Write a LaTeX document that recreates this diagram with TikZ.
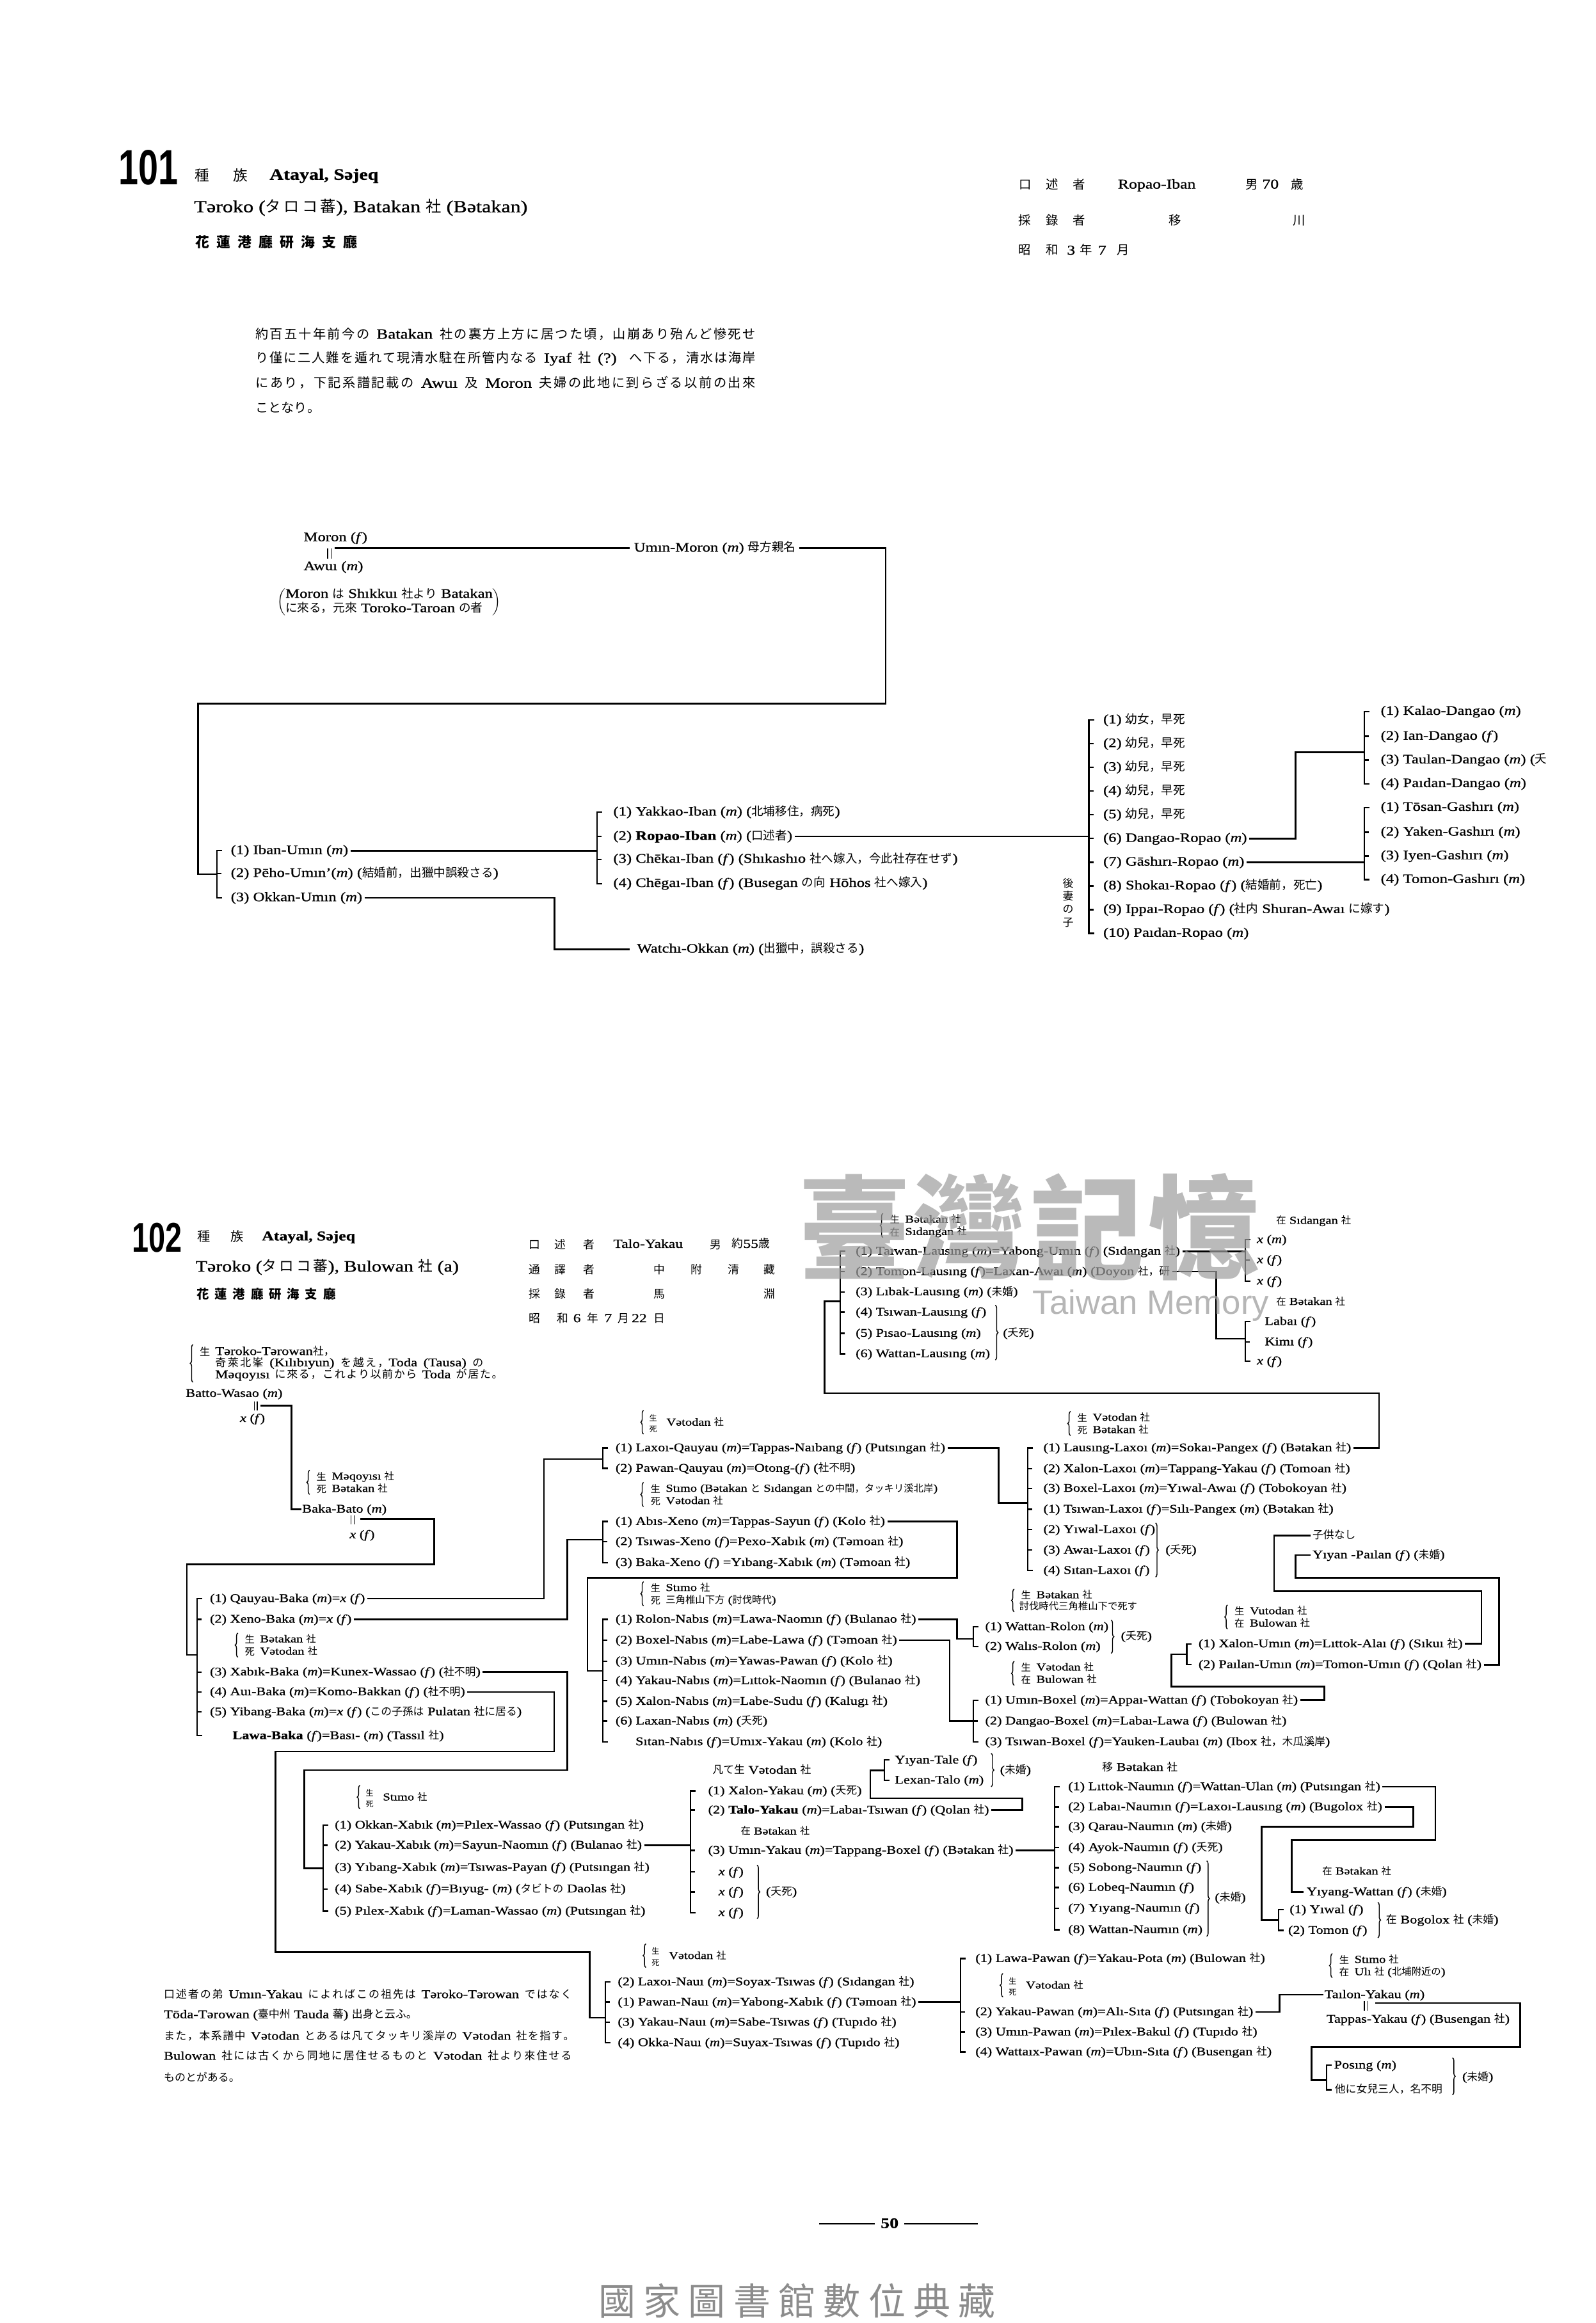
\documentclass[tikz,border=0pt]{standalone}
\usepackage{fontspec}
\setmainfont{Liberation Serif}[FakeStretch=1.22,RawFeature={embolden=1}]
\newfontfamily\jpf{Noto Sans CJK JP}[Scale=0.92]
\newfontfamily\tcf{Noto Sans CJK TC}
\newfontfamily\numf{Liberation Sans}[FakeStretch=0.72]
\newfontfamily\wmf{Liberation Sans}
\usetikzlibrary{decorations.pathreplacing}
\newdimen\ovu \ovu=0.046296cm
\def\cjkfont{\jpf}
\ifdefined\newXeTeXintercharclass
  \newXeTeXintercharclass\cjkcls
\else
  \chardef\cjkcls=7
\fi
\newcount\cjkc
\def\setcjkrange#1#2{\cjkc=#1\relax
  \loop\XeTeXcharclass\cjkc=\cjkcls\relax
  \ifnum\cjkc<#2\relax\advance\cjkc by 1\relax\repeat}
\setcjkrange{"3000}{"30FF}
\setcjkrange{"4E00}{"9FFF}
\setcjkrange{"FF00}{"FFEF}
\XeTeXinterchartoks 0 \cjkcls = {\begingroup\cjkfont}
\XeTeXinterchartoks 4095 \cjkcls = {\begingroup\cjkfont}
\XeTeXinterchartoks \cjkcls 0 = {\endgroup}
\XeTeXinterchartoks \cjkcls 4095 = {\endgroup}
\XeTeXinterchartoks \cjkcls \cjkcls = {\hskip 0pt plus 1pt\relax}
\XeTeXinterchartokenstate=1
\newcommand\ma{(\textit{m})}
\newcommand\fe{(\textit{f})}
\newcommand\xf{\textit{x} (\textit{f})}
\newcommand\bkt[3]{\draw[brk] (#1+3.5,#2) -- (#1,#2) -- (#1,#3) -- (#1+3.5,#3);}
\newcommand\tks[2]{\foreach \yv in {#2}{\draw[brk] (#1,\yv) -- (#1+3,\yv);}}
\newcommand\twol[7]{%
  \draw[brc] (#2,#3+12.3) -- (#2,#3-4);
  \node[cj,font=\fontsize{9.5}{10}\selectfont] (#1a) at (#2+8,#3) {#4};
  \node[note] (#1b) at (#2+15,#3) {#5};
  \node[cj,font=\fontsize{9.5}{10}\selectfont] (#1c) at (#2+8,#3+8.3) {#6};
  \node[note] (#1d) at (#2+15,#3+8.3) {#7};}
\newcommand\stk[4]{%
  \draw[brc] (#2,#3+8) -- (#2,#3-8);
  \node[cj,font=\fontsize{7.5}{8}\selectfont] (#1a) at (#2+6.5,#3-3.7) {生};
  \node[cj,font=\fontsize{7.5}{8}\selectfont] (#1b) at (#2+6.5,#3+3.7) {死};
  \node[note] (#1c) at (#2+15.5,#3) {#4};}
\begin{document}
\begin{tikzpicture}[x=0.046296cm,y=-0.046296cm,
 rw/.style={anchor=west,inner sep=0pt,outer sep=0pt,text height=0.7em,text depth=0.1em},
 cj/.style={anchor=center,inner sep=0pt,outer sep=0pt,text height=0.8em,text depth=0.05em},
 rowA/.style={rw,font=\fontsize{11.5}{13}\selectfont},
 rowB/.style={rw,font=\fontsize{10.4}{12}\selectfont},
 note/.style={rw,font=\fontsize{9.5}{11}\selectfont},
 conn/.style={line width=1.5pt},
 brk/.style={line width=1.3pt},
 brc/.style={decorate,decoration={brace,amplitude=2.5pt},line width=0.8pt},
 dbl/.style={line width=0.8pt}]
\useasboundingbox (0,0) rectangle (1077,1568);
\fill[white] (0,0) rectangle (1077,1568);

%%%%%%%%%%%%%%%% 101 header
\node[anchor=base west,inner sep=0pt,font=\numf\bfseries\fontsize{44}{44}\selectfont] (n101) at (80,124.5) {101};
\node[cj,font=\fontsize{14}{14}\selectfont] (za1) at (136.5,119) {種};
\node[cj,font=\fontsize{14}{14}\selectfont] (za2) at (162.5,119) {族};
\node[rw,font=\bfseries\fontsize{14}{16}\selectfont] (za3) at (182,119) {Atayal, Səjeq};
\node[rw,font=\fontsize{15}{17}\selectfont] (za4) at (131,141) {Təroko (タ\,ロ\,コ\,蕃), Batakan 社 (Bətakan)};
\foreach \ch [count=\i] in {花,蓮,港,廳,研,海,支,廳}
  \node[cj,font=\bfseries\fontsize{13.5}{14}\selectfont] (zb\i) at (122.2+14.3*\i,164) {\ch};
\foreach \ch/\px [count=\i] in {口/692,述/710,者/728.5,男/845,歳/875.5}
  \node[cj,font=\fontsize{12}{12}\selectfont] (ha\i) at (\px,125) {\ch};
\node[rw,font=\fontsize{12}{14}\selectfont] (ha6) at (754.6,125) {Ropao-Iban};
\node[rw,font=\fontsize{12}{14}\selectfont] (ha7) at (852,125) {70};
\foreach \ch/\px [count=\i] in {採/691.5,錄/710,者/728.5,移/793,川/877}
  \node[cj,font=\fontsize{12}{12}\selectfont] (hb\i) at (\px,149) {\ch};
\foreach \ch/\px [count=\i] in {昭/691.5,和/710,3/723,年/733,7/744,月/758}
  \node[cj,font=\fontsize{12}{12}\selectfont] (hc\i) at (\px,169) {\ch};
\node[rw,font=\fontsize{12.5}{14}\selectfont] (pa1) at (172.5,226.3) {\makebox[337.5\ovu][s]{約百五十年前今の Batakan 社の裏方上方に居つた頃，山崩あり殆んど慘死せ}};
\node[rw,font=\fontsize{12.5}{14}\selectfont] (pa2) at (172.5,242.5) {\makebox[337.5\ovu][s]{り僅に二人難を遁れて現清水駐在所管内なる Iyaf 社 (?) へ下る，清水は海岸}};
\node[rw,font=\fontsize{12.5}{14}\selectfont] (pa3) at (172.5,259.4) {\makebox[337.5\ovu][s]{にあり，下記系譜記載の Awuı 及 Moron 夫婦の此地に到らざる以前の出來}};
\node[rw,font=\fontsize{12.5}{14}\selectfont] (pa4) at (172.5,276.3) {ことなり。};

%%%%%%%%%%%%%%%% 101 genealogy
\node[rowA] (moron) at (205,363) {Moron \fe};
\node[rowA] (awui) at (205,382.6) {Awuı \ma};
\draw[dbl] (221.2,370) -- (221.2,377) (223.6,370) -- (223.6,377);
\coordinate (eqa) at (226,370);
\node[rowA] (um) at (428,370) {Umın-Moron \ma{} 母方親名};
\draw[conn] (eqa) -- ([xshift=-4pt]um.west);
\draw[conn] ([xshift=3pt]um.east) -- (597.8,370) -- (597.8,474.9) -- (133.7,474.9) -- (133.7,590) -- (146.3,590);
\node[anchor=west,inner sep=0pt,font=\fontsize{11.5}{12.8}\selectfont] (mnote) at (187,406.4) {$\left(\begin{tabular}{@{}l@{}}Moron は Shıkkuı 社より Batakan\\に來る，元來 Toroko-Taroan の者\end{tabular}\right)$};

\bkt{146.3}{574.2}{606}
\tks{146.3}{589.6}
\node[rowA] (iban) at (155.8,574.2) {(1) Iban-Umın \ma};
\node[rowA] (peho) at (155.8,589.6) {(2) Pēho-Umın'\ma{} (結婚前，出獵中誤殺さる)};
\node[rowA] (okk) at (155.8,606) {(3) Okkan-Umın \ma};
\draw[conn] ([xshift=2pt]iban.east) -- (403,574.2);
\bkt{403}{548.2}{596.4}
\tks{403}{564.6,580}
\node[rowA] (yak) at (414,548.2) {(1) Yakkao-Iban \ma{} (北埔移住，病死)};
\node[rowA] (rop) at (414,564.6) {(2) \textbf{Ropao-Iban} \ma{} (口述者)};
\node[rowA] (chk) at (414,580) {(3) Chēkaı-Iban \fe{} (Shıkashıo 社へ嫁入，今此社存在せず)};
\node[rowA] (chg) at (414,596.4) {(4) Chēgaı-Iban \fe{} (Busegan の向 Hōhos 社へ嫁入)};
\draw[conn] ([xshift=2pt]rop.east) -- (735,564.6);
\draw[conn] ([xshift=2pt]okk.east) -- (374.4,606) -- (374.4,640.7) -- (425,640.7);
\node[rowA] (wat) at (430,640.7) {Watchı-Okkan \ma{} (出獵中，誤殺さる)};

\bkt{735}{486}{630}
\tks{735}{502,518,534,550,566,582,598,614}
\node[rowA] (c1) at (744.7,486) {(1) 幼女，早死};
\node[rowA] (c2) at (744.7,502) {(2) 幼兒，早死};
\node[rowA] (c3) at (744.7,518) {(3) 幼兒，早死};
\node[rowA] (c4) at (744.7,534) {(4) 幼兒，早死};
\node[rowA] (c5) at (744.7,550) {(5) 幼兒，早死};
\node[rowA] (c6) at (744.7,566) {(6) Dangao-Ropao \ma};
\node[rowA] (c7) at (744.7,582) {(7) Gāshırı-Ropao \ma};
\node[rowA] (c8) at (744.7,598) {(8) Shokaı-Ropao \fe{} (結婚前，死亡)};
\node[rowA] (c9) at (744.7,614) {(9) Ippaı-Ropao \fe{} (社内 Shuran-Awaı に嫁す)};
\node[rowA] (c10) at (744.7,630) {(10) Paıdan-Ropao \ma};
\foreach \ch/\py [count=\i] in {後/596,妻/604.8,の/613.5,子/622.5}
  \node[cj,font=\fontsize{10.5}{11}\selectfont] (gs\i) at (721,\py) {\ch};
\draw[conn] ([xshift=2pt]c6.east) -- (874.5,566) -- (874.5,507.8) -- (921,507.8);
\bkt{921}{480.2}{529}
\tks{921}{497,513}
\node[rowA] (d1) at (932,480.2) {(1) Kalao-Dangao \ma};
\node[rowA] (d2) at (932,497) {(2) Ian-Dangao \fe};
\node[rowA] (d3) at (932,513) {(3) Taulan-Dangao \ma{} (夭};
\node[rowA] (d4) at (932,529) {(4) Paıdan-Dangao \ma};
\draw[conn] ([xshift=2pt]c7.east) -- (921,582);
\bkt{921}{545}{593.7}
\tks{921}{561.7,577.7}
\node[rowA] (g1) at (932,545) {(1) Tōsan-Gashırı \ma};
\node[rowA] (g2) at (932,561.7) {(2) Yaken-Gashırı \ma};
\node[rowA] (g3) at (932,577.7) {(3) Iyen-Gashırı \ma};
\node[rowA] (g4) at (932,593.7) {(4) Tomon-Gashırı \ma};

%%%%%%%%%%%%%%%% 102 header
\node[anchor=base west,inner sep=0pt,font=\numf\bfseries\fontsize{37}{37}\selectfont] (n102) at (89,845) {102};
\node[cj,font=\fontsize{12.5}{13}\selectfont] (zc1) at (137.8,835) {種};
\node[cj,font=\fontsize{12.5}{13}\selectfont] (zc2) at (160.2,835) {族};
\node[rw,font=\bfseries\fontsize{12}{14}\selectfont] (zc3) at (176.8,835) {Atayal, Səjeq};
\node[rw,font=\fontsize{14}{16}\selectfont] (zc4) at (132,856) {Təroko (タ\,ロ\,コ\,蕃), Bulowan 社 (a)};
\foreach \ch [count=\i] in {花,蓮,港,廳,研,海,支,廳}
  \node[cj,font=\bfseries\fontsize{12}{12}\selectfont] (zd\i) at (124.8+12.2*\i,874) {\ch};
\foreach \ch/\px [count=\i] in {口/361,述/378,者/397.5,男/483}
  \node[cj,font=\fontsize{11}{11}\selectfont] (hr\i) at (\px,840) {\ch};
\node[rw,font=\fontsize{11}{12}\selectfont] (hr5) at (414,840) {Talo-Yakau};
\node[rw,font=\fontsize{11}{12}\selectfont] (hr6) at (494,840) {約55歳};
\foreach \ch/\px [count=\i] in {通/361,譯/378,者/397.5,中/445,附/470,清/495,藏/519.5}
  \node[cj,font=\fontsize{11}{11}\selectfont] (hs\i) at (\px,857) {\ch};
\foreach \ch/\px [count=\i] in {採/361,錄/378,者/397.5,馬/445,淵/519.5}
  \node[cj,font=\fontsize{11}{11}\selectfont] (ht\i) at (\px,873.3) {\ch};
\foreach \ch/\px [count=\i] in {昭/361,和/380,6/389.5,年/400,7/410.5,月/421,22/431.5,日/445}
  \node[cj,font=\fontsize{11}{11}\selectfont] (hu\i) at (\px,889.6) {\ch};

\draw[brc] (130.3,933) -- (130.3,907.5);
\node[cj,font=\fontsize{10}{10}\selectfont] (tn0) at (138.3,912.3) {生};
\node[rw,font=\fontsize{10.5}{11}\selectfont] (tn1) at (145.3,912.3) {Təroko-Tərowan社，};
\node[rw,font=\fontsize{10.5}{11}\selectfont] (tn2) at (145.3,920) {\makebox[181\ovu][s]{奇萊北峯 (Kılıbıyun) を越え，Toda (Tausa) の}};
\node[rw,font=\fontsize{10.5}{11}\selectfont] (tn3) at (145.3,928) {\makebox[194\ovu][s]{Məqoyısı に來る，これより以前から Toda が居た。}};

%%%%%%%%%%%%%%%% 102 genealogy, left
\node[rowB] (bw) at (125.4,940.6) {Batto-Wasao \ma};
\draw[dbl] (171.7,946) -- (171.7,952) (173.7,946) -- (173.7,952);
\node[rowB] (bwx) at (162,957.5) {\xf};
\coordinate (eqb) at (176,948.7);
\node[rowB] (bb) at (204,1018.7) {Baka-Bato \ma};
\draw[conn] (eqb) -- (196.8,948.7) -- (196.8,1018.7) -- ([xshift=-1pt]bb.west);
\twol{mq}{209}{996.4}{生}{Məqoyısı 社}{死}{Bətakan 社}
\draw[dbl] (237,1023) -- (237,1029) (239,1023) -- (239,1029);
\node[rowB] (bbx) at (236,1036) {\xf};
\coordinate (eqc) at (243.3,1025.3);
\bkt{133}{1079}{1171.6}
\tks{133}{1093,1128.6,1142,1155.5}
\draw[conn] (eqc) -- (293.2,1025.3) -- (293.2,1055.9) -- (126.2,1055.9) -- (126.2,1117) -- (133,1117);
\node[rowB] (bk1) at (141.7,1079) {(1) Qauyau-Baka \ma=\xf};
\node[rowB] (bk2) at (141.7,1093) {(2) Xeno-Baka \ma=\xf};
\twol{bv}{160.6}{1106.3}{生}{Bətakan 社}{死}{Vətodan 社}
\node[rowB] (bk3) at (141.7,1128.6) {(3) Xabık-Baka \ma=Kunex-Wassao \fe{} (社不明)};
\node[rowB] (bk4) at (141.7,1142) {(4) Auı-Baka \ma=Komo-Bakkan \fe{} (社不明)};
\node[rowB] (bk5) at (141.7,1155.5) {(5) Yibang-Baka \ma=\xf{} (この子孫は Pulatan 社に居る)};
\node[rowB] (bk6) at (157,1171.6) {\textbf{Lawa-Baka} \fe=Bası- \ma{} (Tassıl 社)};
\draw[conn] ([xshift=2pt]bk1.east) -- (367.2,1079) -- (367.2,984.8) -- (407,984.8);
\draw[conn] ([xshift=2pt]bk2.east) -- (383,1093) -- (383,1039.3) -- (407,1039.3);
\draw[conn] ([xshift=2pt]bk3.east) -- (383,1128.6) -- (383,1194.7) -- (205.4,1194.7) -- (205.4,1261) -- (218,1261);
\draw[conn] ([xshift=2pt]bk4.east) -- (374,1142) -- (374,1182.3) -- (186,1182.3) -- (186,1317.6) -- (398,1317.6) -- (398,1362) -- (408.5,1362);

% Xabik children
\stk{st1}{243}{1213}{Stımo 社}
\bkt{218}{1232}{1290}
\tks{218}{1245.5,1275}
\node[rowB] (ox1) at (226,1232) {(1) Okkan-Xabık \ma=Pılex-Wassao \fe{} (Putsıngan 社)};
\node[rowB] (ox2) at (226,1245.5) {(2) Yakau-Xabık \ma=Sayun-Naomın \fe{} (Bulanao 社)};
\node[rowB] (ox3) at (226,1260.5) {(3) Yıbang-Xabık \ma=Tsıwas-Payan \fe{} (Putsıngan 社)};
\node[rowB] (ox4) at (226,1275) {(4) Sabe-Xabık \fe=Bıyug- \ma{} (タビトの Daolas 社)};
\node[rowB] (ox5) at (226,1290) {(5) Pılex-Xabık \fe=Laman-Wassao \ma{} (Putsıngan 社)};
\draw[conn] ([xshift=2pt]ox2.east) -- (466,1245.5);

% Yakau group
\node[rowB] (fv) at (481,1195) {凡て生 Vətodan 社};
\bkt{466}{1208.8}{1291}
\tks{466}{1221.8,1249,1263.5,1277}
\node[rowB] (ya1) at (478,1208.8) {(1) Xalon-Yakau \ma{} (夭死)};
\node[rowB] (ya2) at (478,1221.8) {(2) \textbf{Talo-Yakau} \ma=Labaı-Tsıwan \fe{} (Qolan 社)};
\node[note] (ya0) at (500,1236) {在 Bətakan 社};
\node[rowB] (ya3) at (478,1249) {(3) Umın-Yakau \ma=Tappang-Boxel \fe{} (Bətakan 社)};
\node[rowB] (ya4) at (485,1263.5) {\xf};
\node[rowB] (ya5) at (485,1277) {\xf};
\node[rowB] (ya6) at (485,1291) {\xf};
\draw[brc] (511,1259) -- (511,1295);
\node[rowB] (ya7) at (517,1277) {(夭死)};
\draw[conn] ([xshift=2pt]ya2.east) -- (690,1221.8) -- (690,1213.8) -- (587.5,1213.8) -- (587.5,1195) -- (597,1195);
\bkt{597}{1188}{1201.6}
\node[rowB] (yt1) at (604,1188) {Yıyan-Tale \fe};
\node[rowB] (yt2) at (604,1201.6) {Lexan-Talo \ma};
\draw[brc] (669,1183.5) -- (669,1206);
\node[rowB] (yt3) at (675,1195) {(未婚)};

% Naumin group
\node[rowB] (mb) at (744,1193) {移 Bətakan 社};
\draw[conn] ([xshift=2pt]ya3.east) -- (712,1249);
\bkt{712}{1206}{1302.5}
\tks{712}{1219.6,1233,1247,1260.6,1274,1288}
\node[rowB] (nm1) at (721,1206) {(1) Lıttok-Naumın \fe=Wattan-Ulan \ma{} (Putsıngan 社)};
\node[rowB] (nm2) at (721,1219.6) {(2) Labaı-Naumın \fe=Laxoı-Lausıng \ma{} (Bugolox 社)};
\node[rowB] (nm3) at (721,1233) {(3) Qarau-Naumın \ma{} (未婚)};
\node[rowB] (nm4) at (721,1247) {(4) Ayok-Naumın \fe{} (夭死)};
\node[rowB] (nm5) at (721,1260.6) {(5) Sobong-Naumın \fe};
\node[rowB] (nm6) at (721,1274) {(6) Lobeq-Naumın \fe};
\node[rowB] (nm7) at (721,1288) {(7) Yıyang-Naumın \fe};
\node[rowB] (nm8) at (721,1302.5) {(8) Wattan-Naumın \ma};
\draw[brc] (814.5,1256) -- (814.5,1307);
\node[rowB] (nm9) at (820,1281) {(未婚)};
\draw[conn] ([xshift=2pt]nm1.east) -- (968.8,1206) -- (968.8,1242) -- (872,1242) -- (872,1277) -- (880,1277);
\node[note] (yw0) at (892.6,1263) {在 Bətakan 社};
\node[rowB] (yw1) at (882,1277) {Yıyang-Wattan \fe{} (未婚)};
\draw[conn] ([xshift=2pt]nm2.east) -- (954,1219.6) -- (954,1233) -- (851.7,1233) -- (851.7,1296) -- (863,1296);
\bkt{863}{1289}{1303}
\node[rowB] (yw2) at (870.5,1289) {(1) Yıwal \fe};
\node[rowB] (yw3) at (869.5,1303) {(2) Tomon \fe};
\draw[brc] (930,1284) -- (930,1308);
\node[rowB] (yw4) at (935.6,1296) {在 Bogolox 社 (未婚)};

% Naui group
\stk{st2}{436}{1320}{Vətodan 社}
\bkt{408.5}{1337.8}{1378.8}
\tks{408.5}{1351.4,1365}
\node[rowB] (na2) at (417,1337.8) {(2) Laxoı-Nauı \ma=Soyax-Tsıwas \fe{} (Sıdangan 社)};
\node[rowB] (na1) at (417,1351.4) {(1) Pawan-Nauı \ma=Yabong-Xabık \fe{} (Təmoan 社)};
\node[rowB] (na3) at (417,1365) {(3) Yakau-Nauı \ma=Sabe-Tsıwas \fe{} (Tupıdo 社)};
\node[rowB] (na4) at (417,1378.8) {(4) Okka-Nauı \ma=Suyax-Tsıwas \fe{} (Tupıdo 社)};
\draw[conn] ([xshift=2pt]na1.east) -- (648.3,1351.4);

% Pawan group
\bkt{648.3}{1322}{1385}
\tks{648.3}{1358,1371.6}
\node[rowB] (pw1) at (658.4,1322) {(1) Lawa-Pawan \fe=Yakau-Pota \ma{} (Bulowan 社)};
\stk{st3}{677}{1340}{Vətodan 社}
\node[rowB] (pw2) at (658.4,1358) {(2) Yakau-Pawan \ma=Alı-Sıta \fe{} (Putsıngan 社)};
\node[rowB] (pw3) at (658.4,1371.6) {(3) Umın-Pawan \ma=Pılex-Bakul \fe{} (Tupıdo 社)};
\node[rowB] (pw4) at (658.4,1385) {(4) Wattaıx-Pawan \ma=Ubın-Sıta \fe{} (Busengan 社)};
\node[rowB] (ty1) at (894,1346.4) {Taılon-Yakau \ma};
\draw[conn] ([xshift=2pt]pw2.east) -- (863.7,1358) -- (863.7,1346.4) -- ([xshift=-1pt]ty1.west);
\twol{ul}{899.3}{1322.6}{生}{Stımo 社}{在}{Ulı 社 (北埔附近の)}
\draw[dbl] (921,1350.5) -- (921,1357) (923.2,1350.5) -- (923.2,1357);
\node[rowB] (ty2) at (895.4,1363) {Tappas-Yakau \fe{} (Busengan 社)};
\coordinate (eqd) at (928.4,1352);
\draw[conn] (eqd) -- (1026,1352) -- (1026,1381.7) -- (885.3,1381.7) -- (885.3,1404) -- (895.4,1404);
\bkt{895.4}{1394}{1410.5}
\node[rowB] (po1) at (900.5,1394) {Posıng \ma};
\node[rowB] (po2) at (901,1410.5) {他に女兒三人，名不明};
\draw[brc] (980.4,1389) -- (980.4,1414);
\node[rowB] (po3) at (987,1402) {(未婚)};

%%%%%%%%%%%%%%%% 102 genealogy, middle & right
\stk{st4}{434.4}{960}{Vətodan 社}
\bkt{407}{977.3}{991.1}
\node[rowB] (lq1) at (415.5,977.3) {(1) Laxoı-Qauyau \ma=Tappas-Naıbang \fe{} (Putsıngan 社)};
\node[rowB] (lq2) at (415.5,991.1) {(2) Pawan-Qauyau \ma=Otong-\fe{} (社不明)};
\draw[conn] ([xshift=2pt]lq1.east) -- (674,977.3) -- (674,1014.5) -- (693.8,1014.5);
\twol{sm}{434.4}{1004.6}{生}{Stımo (Bətakan と Sıdangan との中間，タッキリ溪北岸)}{死}{Vətodan 社}
\bkt{407}{1027}{1054.7}
\tks{407}{1040.6}
\node[rowB] (xe1) at (415.5,1027) {(1) Abıs-Xeno \ma=Tappas-Sayun \fe{} (Kolo 社)};
\node[rowB] (xe2) at (415.5,1040.6) {(2) Tsıwas-Xeno \fe=Pexo-Xabık \ma{} (Təmoan 社)};
\node[rowB] (xe3) at (415.5,1054.7) {(3) Baka-Xeno \fe{} =Yıbang-Xabık \ma{} (Təmoan 社)};
\draw[conn] ([xshift=2pt]xe1.east) -- (646,1027) -- (646,1065) -- (396.5,1065) -- (396.5,1127.8) -- (407,1127.8);
\twol{sk}{434.4}{1071.6}{生}{Stımo 社}{死}{三角椎山下方 (討伐時代)}
\bkt{407}{1093}{1175.7}
\tks{407}{1107.1,1121.2,1134.4,1148.4,1161.7}
\node[rowB] (nab1) at (415.5,1093) {(1) Rolon-Nabıs \ma=Lawa-Naomın \fe{} (Bulanao 社)};
\node[rowB] (nab2) at (415.5,1107.1) {(2) Boxel-Nabıs \ma=Labe-Lawa \fe{} (Təmoan 社)};
\node[rowB] (nab3) at (415.5,1121.2) {(3) Umın-Nabıs \ma=Yawas-Pawan \fe{} (Kolo 社)};
\node[rowB] (nab4) at (415.5,1134.4) {(4) Yakau-Nabıs \ma=Lıttok-Naomın \fe{} (Bulanao 社)};
\node[rowB] (nab5) at (415.5,1148.4) {(5) Xalon-Nabıs \ma=Labe-Sudu \fe{} (Kalugı 社)};
\node[rowB] (nab6) at (415.5,1161.7) {(6) Laxan-Nabıs \ma{} (夭死)};
\node[rowB] (nab7) at (429,1175.7) {Sıtan-Nabıs \fe=Umıx-Yakau \ma{} (Kolo 社)};
\draw[conn] ([xshift=2pt]nab1.east) -- (646,1093) -- (646,1106.3) -- (657,1106.3);
\draw[conn] ([xshift=2pt]nab2.east) -- (641,1107.1) -- (641,1161.7) -- (657,1161.7);
\draw[brc] (684.6,1088) -- (684.6,1072.5);
\node[cj,font=\fontsize{9.5}{10}\selectfont] (rk1) at (692.6,1076.5) {生};
\node[note] (rk2) at (699.6,1076.5) {Bətakan 社};
\node[note] (rk3) at (688,1084.3) {討伐時代三角椎山下で死す};
\bkt{657}{1098}{1111.3}
\node[rowB] (wr1) at (665,1098) {(1) Wattan-Rolon \ma};
\node[rowB] (wr2) at (665,1111.3) {(2) Walıs-Rolon \ma};
\draw[brc] (750,1093.5) -- (750,1116);
\node[rowB] (wr3) at (756.6,1104.5) {(夭死)};
\twol{bo}{684.6}{1125.3}{生}{Vətodan 社}{在}{Bulowan 社}
\bkt{657}{1147.6}{1175.7}
\tks{657}{1161.7}
\node[rowB] (bx1) at (665,1147.6) {(1) Umın-Boxel \ma=Appaı-Wattan \fe{} (Tobokoyan 社)};
\node[rowB] (bx2) at (665,1161.7) {(2) Dangao-Boxel \ma=Labaı-Lawa \fe{} (Bulowan 社)};
\node[rowB] (bx3) at (665,1175.7) {(3) Tsıwan-Boxel \fe=Yauken-Laubaı \ma{} (Ibox 社，木瓜溪岸)};
\draw[conn] ([xshift=2pt]bx1.east) -- (894,1147.6) -- (894,1138.5) -- (790.6,1138.5) -- (790.6,1116.6) -- (801,1116.6);
\twol{vb}{828.6}{1087.3}{生}{Vutodan 社}{在}{Bulowan 社}
\bkt{801}{1109.6}{1123.6}
\node[rowB] (um1) at (809,1109.6) {(1) Xalon-Umın \ma=Lıttok-Alaı \fe{} (Sıkuı 社)};
\node[rowB] (um2) at (809,1123.6) {(2) Paılan-Umın \ma=Tomon-Umın \fe{} (Qolan 社)};
\node[rowB] (kn) at (886,1036.5) {子供なし};
\node[rowB] (yp) at (886,1049.6) {Yıyan -Paılan \fe{} (未婚)};
\draw[conn] ([xshift=2pt]um1.east) -- (1000,1109.6) -- (1000,1074) -- (860,1074) -- (860,1036.5) -- ([xshift=-2pt]kn.west);
\draw[conn] ([xshift=2pt]um2.east) -- (1011.8,1123.6) -- (1011.8,1065) -- (874.4,1065) -- (874.4,1049.6) -- ([xshift=-2pt]yp.west);
\twol{vl}{722.6}{956.7}{生}{Vətodan 社}{死}{Bətakan 社}
\bkt{693.8}{977.3}{1060}
\tks{693.8}{991.4,1004.6,1018.7,1032.4,1046.3}
\node[rowB] (lx1) at (704.3,977.3) {(1) Lausıng-Laxoı \ma=Sokaı-Pangex \fe{} (Bətakan 社)};
\node[rowB] (lx2) at (704.3,991.4) {(2) Xalon-Laxoı \ma=Tappang-Yakau \fe{} (Tomoan 社)};
\node[rowB] (lx3) at (704.3,1004.6) {(3) Boxel-Laxoı \ma=Yıwal-Awaı \fe{} (Tobokoyan 社)};
\node[rowB] (lx4) at (704.3,1018.7) {(1) Tsıwan-Laxoı \fe=Sılı-Pangex \ma{} (Bətakan 社)};
\node[rowB] (lx5) at (704.3,1032.4) {(2) Yıwal-Laxoı \fe};
\node[rowB] (lx6) at (704.3,1046.3) {(3) Awaı-Laxoı \fe};
\node[rowB] (lx7) at (704.3,1060) {(4) Sıtan-Laxoı \fe};
\draw[brc] (780,1028) -- (780,1064.5);
\node[rowB] (lx8) at (786.7,1046.3) {(夭死)};
\draw[conn] ([xshift=2pt]lx1.east) -- (930.9,977.3) -- (930.9,940.4) -- (556.6,940.4) -- (556.6,878.5) -- (567,878.5);
\twol{sb}{596}{823}{生}{Bətakan 社}{在}{Sıdangan 社}
\bkt{567}{844.6}{913.8}
\tks{567}{858.3,872,885.7,900}
\node[rowB] (l1) at (577.6,844.6) {(1) Taıwan-Lausıng \ma=Yabong-Umın \fe{} (Sıdangan 社)};
\node[rowB] (l2) at (577.6,858.3) {(2) Tomon-Lausıng \fe=Laxan-Awaı \ma{} (Doyon 社，研};
\node[rowB] (l3) at (577.6,872) {(3) Lıbak-Lausıng \ma{} (未婚)};
\node[rowB] (l4) at (577.6,885.7) {(4) Tsıwan-Lausıng \fe};
\node[rowB] (l5) at (577.6,900) {(5) Pısao-Lausıng \ma};
\node[rowB] (l6) at (577.6,913.8) {(6) Wattan-Lausıng \ma};
\draw[brc] (671.8,881) -- (671.8,918);
\node[rowB] (l7) at (677,900) {(夭死)};
\node[note] (sid) at (861.5,823.8) {在 Sıdangan 社};
\draw[conn] ([xshift=2pt]l1.east) -- (840.6,844.6);
\bkt{840.6}{836.7}{864.8}
\tks{840.6}{850.4}
\node[rowB] (sx1) at (848.4,836.7) {\textit{x} \ma};
\node[rowB] (sx2) at (848.4,850.4) {\xf};
\node[rowB] (sx3) at (848.4,864.8) {\xf};
\node[note] (bat1) at (861.5,878.5) {在 Bətakan 社};
\draw[conn] ([xshift=2pt]l2.east) -- (821,858.3) -- (821,903.7) -- (840.6,903.7);
\bkt{840.6}{892}{918.8}
\tks{840.6}{905.8}
\node[rowB] (lb1) at (853.7,892) {Labaı \fe};
\node[rowB] (lb2) at (853.7,905.8) {Kimı \fe};
\node[rowB] (lb3) at (848.4,918.8) {\xf};

%%%%%%%%%%%%%%%% bottom-left note
\node[rw,font=\fontsize{10.5}{12}\selectfont] (bn1) at (110.6,1346.4) {\makebox[275.4\ovu][s]{口述者の弟 Umın-Yakau によればこの祖先は Təroko-Tərowan ではなく}};
\node[rw,font=\fontsize{10.5}{12}\selectfont] (bn2) at (110.6,1360) {Tōda-Tərowan (臺中州 Tauda 蕃) 出身と云ふ。};
\node[rw,font=\fontsize{10.5}{12}\selectfont] (bn3) at (110.6,1374.5) {\makebox[277\ovu][s]{また，本系譜中 Vətodan とあるは凡てタッキリ溪岸の Vətodan 社を指す。}};
\node[rw,font=\fontsize{10.5}{12}\selectfont] (bn4) at (110.6,1388) {\makebox[275.4\ovu][s]{Bulowan 社には古くから同地に居住せるものと Vətodan 社より來住せる}};
\node[rw,font=\fontsize{10.5}{12}\selectfont] (bn5) at (110.6,1402.6) {ものとがある。};

%%%%%%%%%%%%%%%% footer
\node[cj,font=\bfseries\fontsize{13}{13}\selectfont] (pg) at (600.5,1501) {50};
\draw[line width=0.9pt] (553,1501) -- ([xshift=-5pt]pg.west);
\draw[line width=0.9pt] ([xshift=5pt]pg.east) -- (660,1501);
\node[anchor=center,inner sep=0pt,text=black!45,font={\def\cjkfont{\tcf}\fontsize{33}{33}\selectfont}] (ft) at (538,1553) {\makebox[268\ovu][s]{國家圖書館數位典藏}};

%%%%%%%%%%%%%%%% watermark
\foreach \ch/\px [count=\i] in {臺/577,灣/654,記/734,憶/813}
  \node[anchor=center,inner sep=0pt,text=black!38,text opacity=0.7,font={\def\cjkfont{\tcf\bfseries}\fontsize{100}{100}\selectfont}] (wm\i) at (\px,828) {\ch};
\node[anchor=west,inner sep=0pt,text=black!38,text opacity=0.75,font=\wmf\fontsize{30}{30}\selectfont] (wm5) at (697,881) {Taiwan Memory};
\end{tikzpicture}
\end{document}
